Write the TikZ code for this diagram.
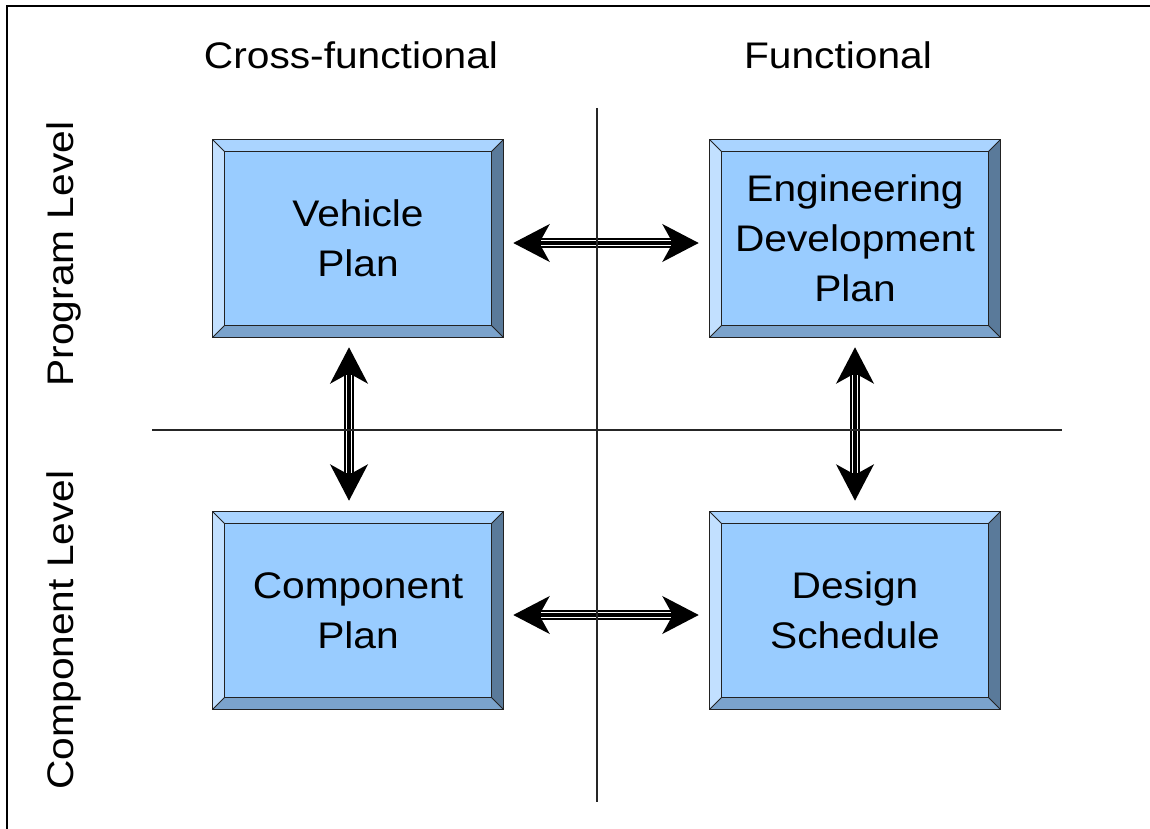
\documentclass[tikz,border=0pt]{standalone}
\usepackage{fontspec}
\setmainfont{Liberation Sans}[FakeStretch=1.1]
\usepackage{tikz}
\usetikzlibrary{arrows.meta}

\definecolor{boxface}{HTML}{99CCFF}
\definecolor{bevtop}{HTML}{AAD4FF}
\definecolor{bevleft}{HTML}{C2E0FF}
\definecolor{bevright}{HTML}{5A7A9A}
\definecolor{bevbottom}{HTML}{7BA3CC}
\definecolor{boxedge}{HTML}{222222}

\begin{document}
\begin{tikzpicture}[x=1pt,y=-1pt,
  every node/.style={font=\fontsize{37}{50}\selectfont},
  plan/.style={fill=boxface,minimum width=290pt,minimum height=197pt,inner sep=0pt,align=center},
  heading/.style={anchor=base},
  sidelabel/.style={anchor=base,rotate=90},
  divider/.style={line width=1.2pt,draw=black!85},
  twoway/.style={line width=10pt,
    {Stealth[length=36pt,width=37pt,inset=10pt]}-{Stealth[length=36pt,width=37pt,inset=10pt]},
    postaction={draw=white,line width=6.5pt,arrows=-,shorten <=28pt,shorten >=28pt},
    postaction={draw=black,line width=3.5pt,arrows=-,shorten <=28pt,shorten >=28pt}}]
  \useasboundingbox (0,0) rectangle (1150,829);
  \draw[line width=2.2pt] (7,829) -- (7,6) -- (1150,6);

  % column and row headings
  \node[heading] (cross) at (351,69) {Cross-functional};
  \node[heading] (func) at (838,69) {Functional};
  \node[sidelabel] (prog) at (73,254) {Program Level};
  \node[sidelabel] (comp) at (73,630) {Component Level};

  % the four plans
  \node[plan] (vp) at (358,238.5) {Vehicle\\Plan};
  \node[plan] (ed) at (855,238.5) {Engineering\\Development\\Plan};
  \node[plan] (cp) at (358,610.5) {Component\\Plan};
  \node[plan] (ds) at (855,610.5) {Design\\Schedule};

  \foreach \n in {vp,ed,cp,ds} {
    \coordinate (inw) at ([shift={(12,12)}]\n.north west);
    \coordinate (ine) at ([shift={(-12,12)}]\n.north east);
    \coordinate (isw) at ([shift={(12,-12)}]\n.south west);
    \coordinate (ise) at ([shift={(-12,-12)}]\n.south east);
    \fill[bevtop] (\n.north west) -- (\n.north east) -- (ine) -- (inw) -- cycle;
    \fill[bevleft] (\n.north west) -- (\n.south west) -- (isw) -- (inw) -- cycle;
    \fill[bevright] (\n.north east) -- (\n.south east) -- (ise) -- (ine) -- cycle;
    \fill[bevbottom] (\n.south west) -- (\n.south east) -- (ise) -- (isw) -- cycle;
    \draw[boxedge,line width=1pt] (\n.north west) rectangle (\n.south east);
    \draw[boxedge,line width=1pt] (inw) rectangle (ise);
    \draw[boxedge,line width=0.8pt] (\n.north west) -- (inw) (\n.north east) -- (ine)
      (\n.south west) -- (isw) (\n.south east) -- (ise);
  }

  % links between plans
  \draw[twoway] ([shift={(10,4.5)}]vp.east) -- ([shift={(-11,4.5)}]ed.west);
  \draw[twoway] ([shift={(10,4.5)}]cp.east) -- ([shift={(-11,4.5)}]ds.west);
  \draw[twoway] ([shift={(-9,10)}]vp.south) -- ([shift={(-9,-11)}]cp.north);
  \draw[twoway] ([shift={(0,10)}]ed.south) -- ([shift={(0,-11)}]ds.north);

  \draw[divider] (597,108) -- (597,802);
  \draw[divider] (152,430) -- (1062,430);
\end{tikzpicture}
\end{document}
